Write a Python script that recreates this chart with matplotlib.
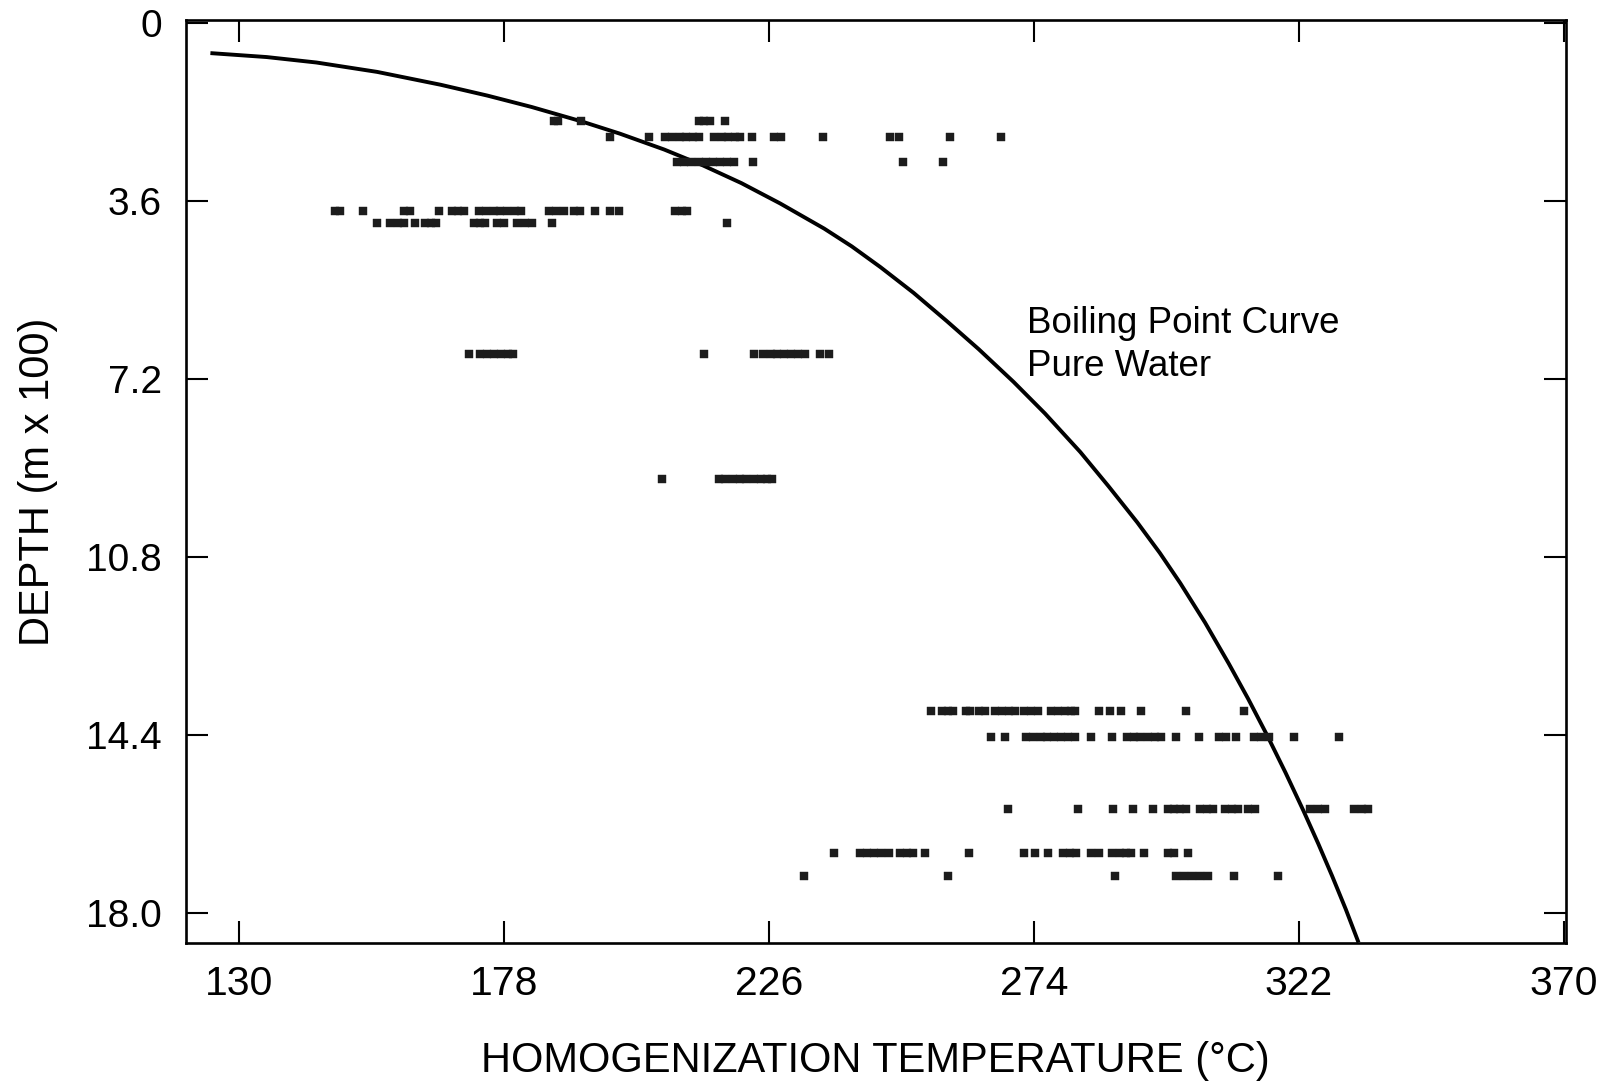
import matplotlib
matplotlib.use("Agg")
import matplotlib.pyplot as plt

plt.rcParams['font.family'] = ['Liberation Sans', 'DejaVu Sans']

# boiling point curve for pure water
curve_temp = [124.8, 135, 144, 155, 166.5, 175, 183, 192, 199, 207, 214, 221, 228, 236,
              241, 246.2, 252.2, 258.2, 264, 270.3, 276, 282.4, 287.5, 292.7, 296.8,
              300.5, 305, 309.3, 312.8, 316.2, 319.6, 322.8, 325.5, 328, 330.5, 332.8]
curve_depth = [0.61, 0.69, 0.80, 0.99, 1.25, 1.47, 1.70, 1.99, 2.24, 2.56, 2.88, 3.24, 3.65, 4.16,
               4.52, 4.94, 5.46, 6.03, 6.60, 7.26, 7.90, 8.68, 9.37, 10.10, 10.72,
               11.33, 12.13, 12.96, 13.67, 14.40, 15.17, 15.93, 16.60, 17.25, 17.93, 18.6]

# fluid inclusion homogenization temperatures, one list per sample depth
row_depths = [1.98, 2.30, 2.82, 3.80, 4.05, 6.70, 9.23, 13.91, 14.45, 15.91, 16.80, 17.25]

temps_r1 = [187.1, 187.8, 192.0, 213.3, 214.3, 215.4, 218.1]
temps_r2 = [197.2, 204.3, 207.2, 208.5, 209.8, 211.0, 212.3, 213.4, 216.1, 217.4, 218.6,
            219.9, 220.8, 223.0, 226.9, 228.2, 235.8, 248.0, 249.6, 258.7, 268.1]
temps_r3 = [209.4, 210.6, 211.9, 213.3, 214.6, 215.8, 217.1, 218.4, 219.6, 223.1, 250.2, 257.5]
temps_r4 = [147.4, 148.2, 152.5, 159.8, 161.0, 166.3, 168.6, 169.7, 170.8, 173.5, 174.8,
            176.1, 177.3, 178.6, 179.9, 181.0, 186.2, 187.5, 188.8, 190.7, 191.8, 194.4,
            197.2, 198.9, 209.0, 210.3, 211.2]
temps_r5 = [154.9, 157.4, 158.7, 159.9, 161.9, 163.7, 164.8, 165.7, 172.6, 173.7, 174.6,
            176.8, 177.9, 180.4, 181.8, 183.1, 186.6, 218.3]
temps_r6 = [171.7, 173.7, 175.0, 176.2, 177.5, 178.8, 179.7, 214.3, 223.3, 225.0, 226.3,
            227.5, 228.8, 230.0, 231.3, 232.6, 235.3, 236.9]
temps_r7 = [206.6, 216.9, 218.1, 219.4, 220.7, 221.9, 223.2, 224.5, 225.7, 226.6]
temps_r8 = [255.4, 257.4, 258.5, 259.4, 261.6, 262.5, 264.1, 265.2, 267.0, 268.3, 269.5,
            270.6, 272.2, 273.5, 274.8, 277.0, 278.3, 279.6, 280.8, 281.5, 285.8, 287.8,
            289.8, 293.4, 301.6, 312.1]
temps_r9 = [266.3, 268.8, 272.6, 273.9, 275.2, 276.4, 277.7, 278.9, 280.2, 281.5, 284.3,
            288.1, 290.8, 292.1, 293.3, 294.6, 295.9, 297.1, 299.7, 303.9, 307.5, 308.8,
            310.6, 313.9, 315.2, 316.6, 321.2, 329.3]
temps_r10 = [269.3, 281.9, 288.3, 291.9, 295.5, 298.2, 299.4, 300.5, 301.6, 304.0, 305.3,
             306.5, 308.7, 309.8, 311.0, 312.7, 314.1, 324.1, 325.4, 326.7, 332.0, 333.5, 334.6]
temps_r11 = [237.7, 242.5, 243.8, 245.1, 246.3, 247.8, 249.8, 251.0, 252.1, 254.3, 262.3,
             272.2, 274.2, 276.5, 279.3, 280.6, 281.7, 284.4, 285.7, 288.2, 289.5, 290.7,
             291.5, 294.0, 298.2, 299.4, 301.9]
temps_r12 = [232.4, 258.5, 288.6, 299.8, 301.2, 302.7, 304.1, 305.6, 310.3, 318.2]

all_rows = [temps_r1, temps_r2, temps_r3, temps_r4, temps_r5, temps_r6,
            temps_r7, temps_r8, temps_r9, temps_r10, temps_r11, temps_r12]

x_ticks = [130, 178, 226, 274, 322, 370]
y_ticks = [0, 3.6, 7.2, 10.8, 14.4, 18.0]
y_tick_labels = ['0', '3.6', '7.2', '10.8', '14.4', '18.0']

###### figure ######
fig = plt.figure(figsize=(16.15, 10.86), dpi=100)
ax = fig.add_axes([0.1149, 0.1317, 0.8548, 0.8499])

ax.plot(curve_temp, curve_depth, color='black', lw=2.8,
        solid_capstyle='butt', solid_joinstyle='round')

for depth, temps in zip(row_depths, all_rows):
    ax.plot(temps, [depth] * len(temps), ls='none', marker='s', ms=5.3,
            color='#1c1c1c', mec='#1c1c1c', mew=0.3)

ax.text(272.8, 6.27, 'Boiling Point Curve', fontsize=26.5, va='baseline', ha='left')
ax.text(272.8, 7.14, 'Pure Water', fontsize=26.5, va='baseline', ha='left')

ax.set_xlim(120.3, 370.4)
ax.set_ylim(18.61, -0.06)

ax.set_xticks(x_ticks)
ax.set_xticklabels([str(t) for t in x_ticks])
ax.set_yticks(y_ticks)
ax.set_yticklabels(y_tick_labels)

ax.tick_params(axis='both', which='major', direction='in', length=16, width=1.5,
               top=True, right=True, colors='black')
ax.tick_params(axis='x', labelsize=29.5, pad=16)
ax.tick_params(axis='y', labelsize=28, pad=17)

for sp in ax.spines.values():
    sp.set_linewidth(1.9)

ax.set_xlabel('HOMOGENIZATION TEMPERATURE (°C)', fontsize=30, labelpad=27)
ax.set_ylabel('DEPTH (m x 100)', fontsize=30, labelpad=20)

fig.savefig('out.png', dpi=100, facecolor='white')
